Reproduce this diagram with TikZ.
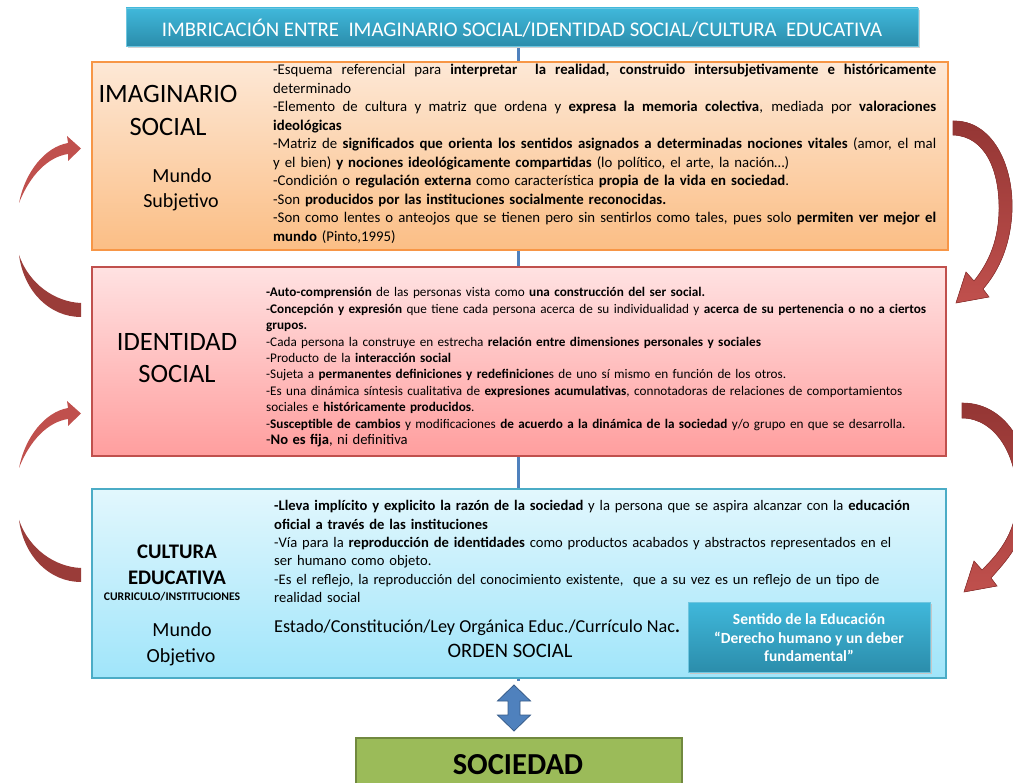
\documentclass[tikz,border=0pt]{standalone}
\usepackage{fontspec}
\setmainfont{Carlito}
\usetikzlibrary{arrows.meta}

\definecolor{orTop}{HTML}{FDE8D6}
\definecolor{orBot}{HTML}{FBBE85}
\definecolor{orLine}{HTML}{F79646}
\definecolor{pkTop}{HTML}{FFE2E2}
\definecolor{pkBot}{HTML}{FF9E9E}
\definecolor{pkLine}{HTML}{C0504D}
\definecolor{blTop}{HTML}{E2F7FD}
\definecolor{blBot}{HTML}{A0E5FA}
\definecolor{blLine}{HTML}{4BACC6}
\definecolor{tlTop}{HTML}{40B8DB}
\definecolor{tlBot}{HTML}{2B8DAB}
\definecolor{tlLine}{HTML}{6EC6E0}
\definecolor{axis}{HTML}{4F81BD}
\definecolor{axisDk}{HTML}{385D8A}
\definecolor{arRed}{HTML}{C0504D}
\definecolor{arDark}{HTML}{943634}
\definecolor{arDeep}{HTML}{9A3C39}
\definecolor{socFill}{HTML}{9BBB59}
\definecolor{socLine}{HTML}{71893F}

\newlength\orw \setlength\orw{663pt}
% a line spread to the full measure, spaces taking up the slack evenly
\newcommand\fullline[2]{\makebox[#1][s]{\spaceskip=0.226em plus 1fil minus 0.06em\xspaceskip=\spaceskip #2}}

\tikzset{
  panel/.style={rectangle, line width=1.4pt, inner sep=0pt},
  tealbox/.style={rectangle, inner sep=0pt, top color=tlTop, bottom color=tlBot, draw=tlLine, line width=0.8pt},
  bodytext/.style={anchor=base west, inner sep=0pt, align=left},
  label/.style={anchor=base, inner sep=0pt},
  curvearrow/.style={draw=arDark, line width=0.6pt},
}

\begin{document}
\begin{tikzpicture}[x=1pt,y=-1pt]
\useasboundingbox (0,0) rectangle (1013,783);

% central axis running behind the three panels
\coordinate (axtop) at (518,46);
\coordinate (axbot) at (518,681);
\draw[axis, line width=3pt] (axtop) -- (axbot);

% title bar
\fill[black!18] (128,10) rectangle (920,48.5);
\node[tealbox, minimum width=792, minimum height=38] (title) at (522,27) {};
\node[text=white, font=\fontsize{20.8}{22}\selectfont, inner sep=0pt] (titletxt) at (522,28)
  {IMBRICACIÓN ENTRE\ \ IMAGINARIO SOCIAL/IDENTIDAD SOCIAL/CULTURA\ \ EDUCATIVA};

% the three panels
\node[panel, draw=orLine, top color=orTop, bottom color=orBot, minimum width=856, minimum height=188] (imag) at (520,156) {};
\node[panel, draw=pkLine, top color=pkTop, bottom color=pkBot, minimum width=854, minimum height=189] (ident) at (519,361.5) {};
\node[panel, draw=blLine, top color=blTop, bottom color=blBot, minimum width=854, minimum height=189] (cult) at (519,583.5) {};

% ---- IMAGINARIO SOCIAL ----
\node[label, font=\fontsize{26.5}{30}\selectfont] (im1) at (168,103) {IMAGINARIO};
\node[label, font=\fontsize{26.5}{30}\selectfont] (im2) at (168,136) {SOCIAL};
\node[label, font=\fontsize{20}{22}\selectfont] (im3) at (182,183) {Mundo};
\node[label, font=\fontsize{20}{22}\selectfont] (im4) at (181,208) {Subjetivo};

\node[bodytext, text width=\orw, font=\fontsize{14.8}{18.5}\selectfont] (imtxt) at (273,75) {%
\fullline{\orw}{-Esquema referencial para \textbf{interpretar}\ \ \textbf{la realidad, construido intersubjetivamente e históricamente}}\\
determinado\\
\fullline{\orw}{-Elemento de cultura y matriz que ordena y \textbf{expresa la memoria colectiva}, mediada por \textbf{valoraciones}}\\
\textbf{ideológicas}\\
\fullline{\orw}{-Matriz de \textbf{significados que orienta los sentidos asignados a determinadas nociones vitales} (amor, el mal}\\
y el bien) \textbf{y nociones ideológicamente compartidas} (lo político, el arte, la nación…)\\
-Condición o \textbf{regulación externa} como característica \textbf{propia de la vida en sociedad}.\\
-Son \textbf{producidos por las instituciones socialmente reconocidas.}\\
\fullline{\orw}{-Son como lentes o anteojos que se tienen pero sin sentirlos como tales, pues solo \textbf{permiten ver mejor el}}\\
\textbf{mundo} (Pinto,1995)};

% ---- IDENTIDAD SOCIAL ----
\node[label, font=\fontsize{26.5}{30}\selectfont] (id1) at (177,351) {IDENTIDAD};
\node[label, font=\fontsize{26.5}{30}\selectfont] (id2) at (177,383) {SOCIAL};

\node[bodytext, text width=675pt, font=\fontsize{13.2}{16.4}\selectfont] (idtxt) at (266,297) {%
\textbf{-Auto-comprensión} de las personas vista como \textbf{una construcción del ser social.}\\
-\textbf{Concepción y expresión} que tiene cada persona acerca de su individualidad y \textbf{acerca de su pertenencia o no a ciertos}\\
\textbf{grupos.}\\
-Cada persona la construye en estrecha \textbf{relación entre dimensiones personales y sociales}\\
-Producto de la \textbf{interacción social}\\
-Sujeta a \textbf{permanentes definiciones y redefinicione}s de uno sí mismo en función de los otros.\\
-Es una dinámica síntesis cualitativa de \textbf{expresiones acumulativas}, connotadoras de relaciones de comportamientos\\
sociales e \textbf{históricamente producidos}.\\
-\textbf{Susceptible de cambios} y modificaciones \textbf{de acuerdo a la dinámica de la sociedad} y/o grupo en que se desarrolla.\\
{\fontsize{14.6}{16.4}\selectfont -\textbf{No es fija}, ni definitiva}};

% ---- CULTURA EDUCATIVA ----
\node[label, font=\bfseries\fontsize{20.7}{22}\selectfont] (cu1) at (177,559) {CULTURA};
\node[label, font=\bfseries\fontsize{20.7}{22}\selectfont] (cu2) at (177,585) {EDUCATIVA};
\node[label, font=\bfseries\fontsize{11.7}{12}\selectfont] (cu3) at (172,601) {CURRICULO/INSTITUCIONES};
\node[label, font=\fontsize{20}{22}\selectfont] (cu4) at (182,637) {Mundo};
\node[label, font=\fontsize{20}{22}\selectfont] (cu5) at (181,662) {Objetivo};

\node[bodytext, text width=660pt, font=\fontsize{14.6}{18.3}\selectfont] (cutxt) at (274,511) {%
\textbf{-Lleva implícito y explicito la razón de la sociedad} y la persona que se aspira alcanzar con la \textbf{educación}\\
\textbf{oficial a través de las instituciones}\\
-Vía para la \textbf{reproducción de identidades} como productos acabados y abstractos representados en el\\
ser humano como objeto.\\
-Es el reflejo, la reproducción del conocimiento existente,\ \ que a su vez es un reflejo de un tipo de\\
realidad social};

\node[anchor=base west, inner sep=0pt, font=\fontsize{18.2}{20}\selectfont] (estado) at (274,632)
  {Estado/Constitución/Ley Orgánica Educ./Currículo Nac\textbf{.}};
\node[label, font=\fontsize{20.5}{22}\selectfont] (orden) at (510,657) {ORDEN SOCIAL};

% inner teal card
\fill[black!22] (690,604) rectangle (932,674);
\node[tealbox, minimum width=242, minimum height=70] (sentido) at (809,637) {};
\node[text=white, font=\bfseries\fontsize{15.5}{18.5}\selectfont, align=center, inner sep=0pt] (senttxt) at (809,638)
  {Sentido de la Educación\\“Derecho humano y un deber\\fundamental”};

% ---- SOCIEDAD ----
\node[rectangle, fill=socFill, draw=socLine, line width=2pt, minimum width=326, minimum height=64, inner sep=0pt] (soc) at (519,770) {};
\node[label, font=\bfseries\fontsize{30.5}{32}\selectfont] (soctxt) at (518,774) {SOCIEDAD};

% two-headed link between the education panel and society
\filldraw[fill=axis, draw=axisDk, line width=0.8pt]
  (514,685) -- (530.5,701) -- (520,701) -- (520,715) -- (530.5,715) -- (514,731)
  -- (497.5,715) -- (508,715) -- (508,701) -- (497.5,701) -- cycle;

% ---- curved arrows on the left ----
\foreach \dy in {0,265} {
  \begin{scope}[yshift=-\dy pt]
    % lower dark crescent
    \fill[arDeep] (19,255) .. controls (24,292) and (50,317) .. (81,317) -- (81,303)
      .. controls (55,302) and (29,284) .. (19,255) -- cycle;
    % upper crescent with head
    \fill[arRed] (19,203) .. controls (25,172) and (45,147) .. (68,143)
      -- (67,136) -- (81,148.5) -- (68,161) -- (68,154)
      .. controls (48,157) and (30,175) .. (19,203) -- cycle;
  \end{scope}
}

% ---- curved arrows on the right ----
\filldraw[curvearrow, top color=arDark, bottom color=arRed]
  (953,121) .. controls (992,120) and (1014,165) .. (1012,212)
  .. controls (1010,250) and (996,274) .. (983,289)
  -- (989,297) -- (956,303) -- (966,272) -- (974,281)
  .. controls (986,266) and (998,245) .. (999,212)
  .. controls (1000,170) and (985,136) .. (953,135) -- cycle;

\filldraw[curvearrow, top color=arDark, bottom color=arRed]
  (962,403) .. controls (1010,403) and (1033,455) .. (1030,500)
  .. controls (1027,540) and (1005,562) .. (991,578)
  -- (997,586) -- (964,592) -- (974,561) -- (982,570)
  .. controls (996,556) and (1016,535) .. (1017,500)
  .. controls (1018,455) and (995,418) .. (962,418) -- cycle;

\end{tikzpicture}
\end{document}
